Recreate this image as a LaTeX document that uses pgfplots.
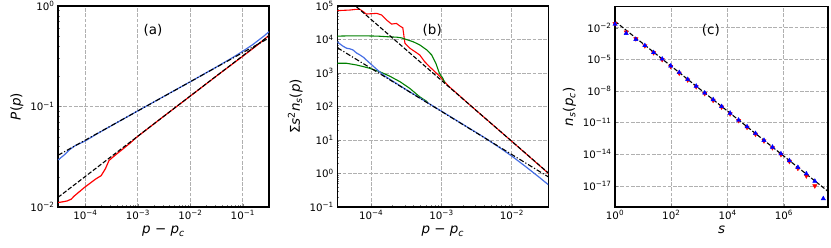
\documentclass[border=0pt]{standalone}
\usepackage{pgfplots}
\pgfplotsset{compat=1.18}
\usepackage{fontspec}
\setmainfont{DejaVu Sans}

\definecolor{myblue}{RGB}{70,110,228}
\definecolor{myred}{RGB}{255,0,0}
\definecolor{mygreen}{RGB}{0,128,0}
\definecolor{gridgray}{RGB}{176,176,176}

\newcommand{\tp}[1]{10\textsuperscript{#1}}

\pgfplotsset{
  every axis/.append style={
    scale only axis,
    tick align=inside,
    major tick length=3.5pt, minor tick length=2pt,
    axis line style={line width=1.1pt},
    grid=major,
    major grid style={gridgray, line width=0.8pt, dash pattern=on 3.7pt off 1.6pt},
    ticklabel style={font=\fontsize{10.3}{12}\selectfont},
    label style={font=\fontsize{13.5}{15}\selectfont},
    xtick pos=bottom, ytick pos=left,
  },
}
\tikzset{
  fitdash/.style={black, line width=1.1pt, dash pattern=on 4.4pt off 1.9pt},
  fitdashdot/.style={black, line width=1.1pt, dash pattern=on 5pt off 2pt on 1.2pt off 2pt},
}

\begin{document}
\begin{tikzpicture}
\useasboundingbox (0bp,0bp) rectangle (831bp,-248bp);

% ---------------- (a) ----------------
\begin{axis}[xmode=log, ymode=log,
  at={(58bp,-207bp)}, anchor=south west,
  width=211bp, height=201bp,
  xmin=3e-5, xmax=0.316, ymin=1e-2, ymax=1,
  xtick={1e-4,1e-3,1e-2,1e-1},
  xticklabels={\tp{−4},\tp{−3},\tp{−2},\tp{−1}},
  ytick={1e-2,1e-1,1},
  yticklabels={\tp{−2},\tp{−1},\tp{0}},
  xlabel={\textit{p} − \textit{p}\textsubscript{\textit{c}}},
  ylabel={\textit{P}(\textit{p})},
]
\addplot[myblue, line width=1.2pt] coordinates {
(3.02e-5,0.0294) (3.98e-5,0.0331) (5.01e-5,0.0372) (6.31e-5,0.0407)
(1e-4,0.0455) (1.585e-4,0.0527) (3.162e-4,0.0646) (1e-3,0.0906)
(3.162e-3,0.1265) (1e-2,0.1766) (3.162e-2,0.2477) (6.31e-2,0.3055)
(0.1,0.3548) (0.1585,0.4169) (0.2512,0.5012) (0.3162,0.5546)
};
\addplot[myred, line width=1.2pt] coordinates {
(3.02e-5,0.01109) (3.548e-5,0.01122) (4.467e-5,0.01148) (5.37e-5,0.01197)
(6.166e-5,0.01291) (7.586e-5,0.01413) (9.55e-5,0.01563) (1.288e-4,0.01758)
(1.585e-4,0.01905) (1.995e-4,0.02051) (2.399e-4,0.02399) (2.818e-4,0.02904)
(3.311e-4,0.03126) (4.169e-4,0.03451) (5.495e-4,0.03873) (7.079e-4,0.04315)
(9.772e-4,0.05012) (3.162e-3,0.0804) (1e-2,0.1271) (3.162e-2,0.2014)
(0.1,0.3162) (0.1995,0.4169) (0.3162,0.5105)
};
\addplot[fitdashdot] coordinates {(3e-5,0.0327) (0.32,0.482)};
\addplot[fitdash] coordinates {(3e-5,0.01247) (0.32,0.509)};
\node[font=\fontsize{13.5}{15}\selectfont] at (rel axis cs:0.45,0.88) {(a)};
\end{axis}

% ---------------- (b) ----------------
\begin{axis}[xmode=log, ymode=log,
  at={(337.3bp,-207bp)}, anchor=south west,
  width=211bp, height=201bp,
  xmin=3.3e-5, xmax=3.3e-2, ymin=0.1, ymax=1e5,
  xtick={1e-4,1e-3,1e-2},
  xticklabels={\tp{−4},\tp{−3},\tp{−2}},
  ytick={0.1,1,10,100,1000,10000,100000},
  yticklabels={\tp{−1},\tp{0},\tp{1},\tp{2},\tp{3},\tp{4},\tp{5}},
  xlabel={\textit{p} − \textit{p}\textsubscript{\textit{c}}},
  ylabel={Σ\textit{s}\textsuperscript{2}\textit{n}\textsubscript{\textit{s}}(\textit{p})},
]
\addplot[myred, line width=1.1pt] coordinates {
(3.311e-5,72440) (3.981e-5,74130) (5.012e-5,75860) (6.026e-5,79430)
(6.918e-5,79430) (7.762e-5,67610) (8.511e-5,57540) (1e-4,58880)
(1.202e-4,60260) (1.413e-4,53700) (1.660e-4,38020) (1.950e-4,28840)
(2.291e-4,30200) (2.570e-4,25120) (2.818e-4,22390) (3.020e-4,7762)
(3.548e-4,5495) (4.169e-4,4365) (4.898e-4,3467) (5.754e-4,2188)
(6.761e-4,1549) (7.943e-4,1122) (9.333e-4,812.8) (1.259e-3,407.4)
(3.162e-3,74.13) (1e-2,9.12) (3.162e-2,1.096) (3.281e-2,1.0)
};
\addplot[mygreen, line width=1.1pt] coordinates {
(3.311e-5,12590) (5.012e-5,12880) (7.943e-5,12880) (1.259e-4,12590)
(1.778e-4,12020) (2.291e-4,11750) (2.692e-4,11220) (3.162e-4,10000)
(3.981e-4,8511) (4.898e-4,6918) (6.166e-4,4898) (7.244e-4,3467)
(8.318e-4,1950) (9.333e-4,977.2) (1.047e-3,691.8) (1.122e-3,489.8)
};
\addplot[mygreen, line width=1.1pt] coordinates {
(3.311e-5,1950) (4.467e-5,1950) (6.166e-5,1738) (7.762e-5,1549)
(9.55e-5,1380) (1.318e-4,1096) (1.820e-4,812.8) (2.570e-4,549.5)
(3.548e-4,346.7) (4.898e-4,195.0) (6.310e-4,138.0)
};
\addplot[myblue, line width=1.2pt] coordinates {
(3.311e-5,8511) (3.631e-5,7244) (3.981e-5,6310) (4.467e-5,5495)
(5.012e-5,5248) (5.495e-5,4898) (6.166e-5,3981) (6.918e-5,3467)
(7.762e-5,2951) (8.511e-5,2455) (1.023e-4,1738) (1.259e-4,1175)
(1.585e-4,794.3) (3.162e-4,316.2) (1e-3,72.44) (3.89e-3,12.59)
(6.31e-3,6.457) (1e-2,3.311) (1.585e-2,1.585) (2.512e-2,0.7413)
(3.281e-2,0.4677)
};
\addplot[fitdash] coordinates {(3.311e-5,2.95e5) (3.281e-2,1.05)};
\addplot[fitdashdot] coordinates {(3.311e-5,5675) (3.281e-2,0.80)};
\node[font=\fontsize{13.5}{15}\selectfont] at (rel axis cs:0.45,0.88) {(b)};
\end{axis}

% ---------------- (c) ----------------
\begin{axis}[xmode=log, ymode=log,
  at={(615bp,-207bp)}, anchor=south west,
  width=213bp, height=200.5bp,
  xmin=1, xmax=3.7e7, ymin=1e-19, ymax=1,
  xtick={1,100,10000,1000000},
  xticklabels={\tp{0},\tp{2},\tp{4},\tp{6}},
  ytick={1e-2,1e-5,1e-8,1e-11,1e-14,1e-17},
  yticklabels={\tp{−2},\tp{−5},\tp{−8},\tp{−11},\tp{−14},\tp{−17}},
  minor xtick={}, minor ytick={},
  xlabel={\textit{s}},
  ylabel={\textit{n}\textsubscript{\textit{s}}(\textit{p}\textsubscript{\textit{c}})},
]
\addplot[only marks, mark=triangle*, mark size=2.5pt, myred,
  mark options={rotate=180, draw=myred, fill=myred}] coordinates {
(1,2.399e-2) (2.5,3.802e-3) (5.5,8.710e-4) (11.5,1.905e-4)
(23.5,4.169e-5) (47.5,9.333e-6) (95.5,2.089e-6) (191.5,4.786e-7)
(383.5,1.096e-7) (767.5,2.512e-8) (1535.5,5.623e-9) (3071.5,1.288e-9)
(6143.5,2.951e-10) (12287.5,6.761e-11) (24575.5,1.549e-11) (49151.5,3.548e-12)
(98303.5,7.943e-13) (196607.5,1.820e-13) (393215.5,4.169e-14) (786431.5,9.333e-15)
(1572863.5,2.089e-15) (3145727.5,4.677e-16) (6291455.5,8.913e-17) (12582911.5,1e-17)
};
\addplot[only marks, mark=triangle*, mark size=2.5pt, blue,
  mark options={draw=blue, fill=blue}] coordinates {
(1,2.089e-2) (2.5,2.818e-3) (5.5,7.586e-4) (11.5,1.995e-4)
(23.5,4.365e-5) (47.5,1.072e-5) (95.5,2.399e-6) (191.5,5.623e-7)
(383.5,1.230e-7) (767.5,2.884e-8) (1535.5,6.457e-9) (3071.5,1.514e-9)
(6143.5,3.388e-10) (12287.5,7.943e-11) (24575.5,1.738e-11) (49151.5,4.074e-12)
(98303.5,9.333e-13) (196607.5,2.089e-13) (393215.5,4.786e-14) (786431.5,1.122e-14)
(1572863.5,2.512e-15) (3145727.5,5.754e-16) (6291455.5,1.413e-16) (12582911.5,2.818e-17)
(25165823.5,6.310e-19)
};
\addplot[fitdash] coordinates {(1,3.981e-2) (3.7e7,3.02e-18)};
\node[font=\fontsize{13.5}{15}\selectfont] at (rel axis cs:0.45,0.88) {(c)};
\end{axis}
\end{tikzpicture}
\end{document}
